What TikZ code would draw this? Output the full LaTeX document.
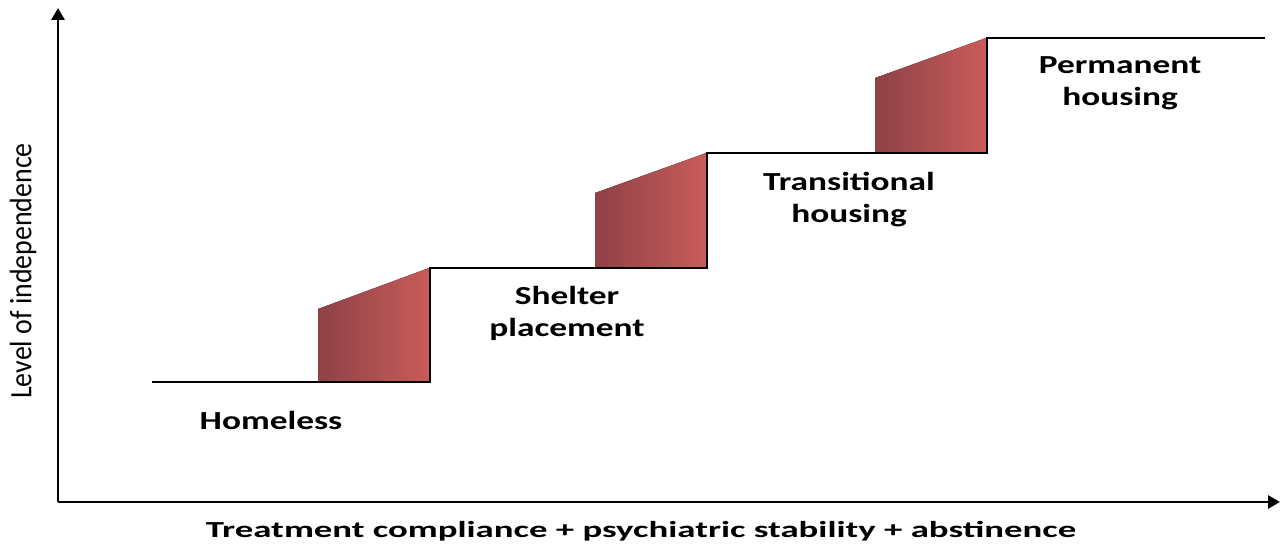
\documentclass[tikz,border=0pt]{standalone}
\usepackage{fontspec}
\setmainfont{Carlito}
\usetikzlibrary{arrows.meta}
\definecolor{stepdark}{HTML}{8E4146}
\definecolor{steplight}{HTML}{C95C5A}
\tikzset{
  axisline/.style={line width=2.8pt,-{Triangle[length=12pt,width=13pt]}},
  stairline/.style={line width=2.8pt,line join=miter},
  riser/.style={left color=stepdark,right color=steplight,draw=none},
  steplabel/.style={font=\bfseries\fontsize{26}{32}\selectfont,align=center,xscale=1.36,inner sep=0pt},
}
\begin{document}
\begin{tikzpicture}[x=1pt,y=-1pt]
\useasboundingbox (0,0) rectangle (1281,545);
% risers
\fill[riser] (318,382) -- (318,309) -- (429,268) -- (429,382) -- cycle;
\fill[riser] (595,268) -- (595,193) -- (706,153) -- (706,268) -- cycle;
\fill[riser] (875,153) -- (875,78) -- (986,38) -- (986,153) -- cycle;
% stairs
\coordinate (s0) at (152,382);
\coordinate (s7) at (1265,38);
\draw[stairline] (s0) -- (430,382) -- (430,268) -- (707,268) -- (707,153) -- (987,153) -- (987,38) -- (s7);
% axes
\coordinate (o) at (58,502);
\coordinate (ytip) at (58,8);
\coordinate (xtip) at (1280,502);
\draw[axisline] (o) -- (ytip);
\draw[axisline] (58,502) -- (xtip);
% labels
\node[steplabel] (homeless) at (271,420) {Homeless};
\node[steplabel] (shelter) at (567,313) {Shelter\\placement};
\node[steplabel] (trans) at (849,200) {Transitional\\housing};
\node[steplabel] (perm) at (1120,83) {Permanent\\housing};
\node[rotate=90,font=\fontsize{31}{35}\selectfont,xscale=0.9,inner sep=0pt] (ylab) at (23,271) {Level of independence};
\node[font=\bfseries\fontsize{23}{27}\selectfont,xscale=1.6,inner sep=0pt] (xlab) at (641,531) {Treatment compliance + psychiatric stability + abstinence};
\end{tikzpicture}
\end{document}
